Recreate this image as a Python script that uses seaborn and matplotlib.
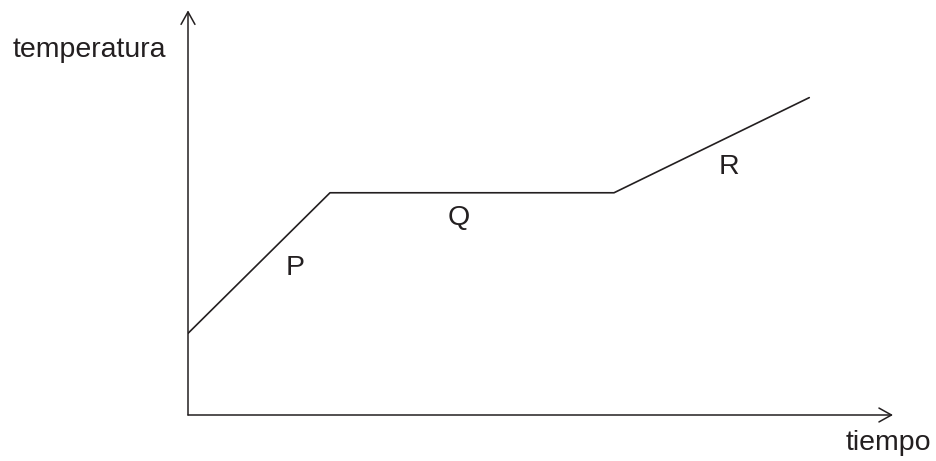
import matplotlib
matplotlib.use("Agg")
import matplotlib.pyplot as plt
import seaborn as sns
import pandas as pd

# heating curve: time vs temperature (arbitrary units)
tiempo = [0, 2, 6, 8.75]
temperatura = [1.15, 3.13, 3.13, 4.47]

segment_labels = ["P", "Q", "R"]
segment_pos = [(1.51, 2.07), (3.82, 2.77), (7.62, 3.49)]

sns.set_style("white")
plt.rcParams['font.family'] = ['Liberation Sans', 'DejaVu Sans']

ink = "#231f20"
df = pd.DataFrame({"tiempo": tiempo, "temperatura": temperatura})

fig = plt.figure(figsize=(9.36, 4.61), dpi=100)
ax = fig.add_axes([188 / 936, 46 / 461, 1 - 188 / 936, 1 - 46 / 461])

sns.lineplot(data=df, x="tiempo", y="temperatura", ax=ax,
             color=ink, linewidth=1.2, sort=False)

ax.set_xlim(0, 748 / 71)
ax.set_ylim(0, 415 / 71)
ax.axis("off")

# axes drawn as open arrows
arrow = dict(arrowstyle="->,head_length=0.9,head_width=0.5",
             color=ink, lw=1.1, shrinkA=0, shrinkB=0)
ax.annotate("", xy=(9.93, 0), xytext=(0, 0), arrowprops=arrow,
            annotation_clip=False)
ax.annotate("", xy=(0, 5.70), xytext=(0, 0), arrowprops=arrow,
            annotation_clip=False)

for lab, (x, y) in zip(segment_labels, segment_pos):
    ax.text(x, y, lab, fontsize=20.5, color=ink, ha="center", va="center")

ax.text(-1.39, 5.14, "temperatura", fontsize=20.5, color=ink,
        ha="center", va="center", clip_on=False)
ax.text(9.86, -0.39, "tiempo", fontsize=20.5, color=ink,
        ha="center", va="center", clip_on=False)

fig.savefig("out.png", dpi=100)
